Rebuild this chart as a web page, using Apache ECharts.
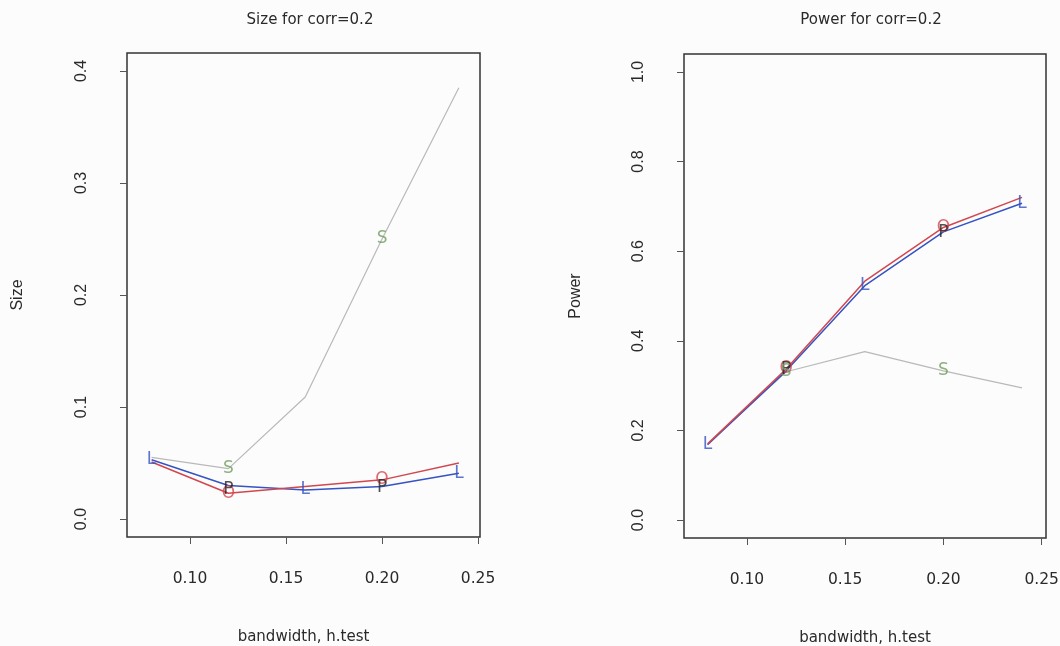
<!DOCTYPE html>
<html>
<head>
<meta charset="utf-8">
<script src="https://cdn.jsdelivr.net/npm/echarts@6/dist/echarts.min.js"></script>
<style>
html,body{margin:0;padding:0;background:#fcfcfc;}
#c{width:1060px;height:646px;}
</style>
</head>
<body>
<div id="c"></div>
<script>
// ---- data ----
const bandwidth = [0.08, 0.12, 0.16, 0.20, 0.24];
const xTicks = [0.10, 0.15, 0.20, 0.25];
const sizeTicks = [0.0, 0.1, 0.2, 0.3, 0.4];
const powerTicks = [0.0, 0.2, 0.4, 0.6, 0.8, 1.0];

// Size panel
const sizeRed   = [0.051, 0.023, 0.029, 0.035, 0.050];
const sizeBlue  = [0.053, 0.030, 0.026, 0.029, 0.041];
const sizeBlack = [null, 0.026, null, 0.028, null];
const sizeGray  = [0.055, 0.045, 0.109, 0.250, 0.385];

// Power panel
const powerRed   = [0.170, 0.337, 0.533, 0.653, 0.720];
const powerBlue  = [0.168, 0.333, 0.523, 0.643, 0.707];
const powerBlack = [null, 0.335, null, 0.642, null];
const powerGray  = [0.170, 0.331, 0.376, 0.333, 0.295];

// letters marking points
const blueLetter = 'L', redLetter = 'O', blackLetter = 'P', grayLetter = 'S';
const blueMarkIdx = [0, 2, 4];
const otherMarkIdx = [1, 3];

const FONT = '"DejaVu Sans", "Liberation Sans", Arial, sans-serif';
const FONT_V = '"Liberation Sans", Arial, sans-serif';
const C_RED = '#d2474f', C_BLUE = '#3553c2', C_GRAY = '#b9b9b9', C_GREEN = '#6f9e5e', C_BLACK = '#262626';
const C_TEXT = '#2a2a2a';

function pairs(vals, idx) {
  const out = [];
  vals.forEach((v, i) => { if (v !== null && (!idx || idx.indexOf(i) >= 0)) out.push([bandwidth[i], v]); });
  return out;
}
function lineSeries(vals, color, width, gi) {
  return { type: 'line', xAxisIndex: gi, yAxisIndex: gi, data: pairs(vals), symbol: 'none',
    lineStyle: { color: color, width: width }, silent: true, animation: false, z: 2 };
}
function letterSeries(vals, idx, letter, color, gi) {
  return { type: 'scatter', xAxisIndex: gi, yAxisIndex: gi, data: pairs(vals, idx), symbolSize: 1,
    itemStyle: { color: 'rgba(0,0,0,0)' }, animation: false, silent: true, z: 5,
    label: { show: true, position: 'inside', formatter: letter, color: color, fontSize: 17, fontFamily: FONT } };
}
function xAxisDef(gi, min, max) {
  return { type: 'value', gridIndex: gi, min: min, max: max,
    name: 'bandwidth, h.test', nameLocation: 'middle', nameGap: 93,
    nameTextStyle: { fontFamily: FONT, fontSize: 15, color: C_TEXT },
    axisLine: { show: false, onZero: false }, splitLine: { show: false },
    axisTick: { show: true, inside: false, length: 7, customValues: xTicks, lineStyle: { color: '#555', width: 1 } },
    axisLabel: { show: true, customValues: xTicks, margin: 34, formatter: v => v.toFixed(2),
      fontFamily: FONT, fontSize: 15.5, color: C_TEXT } };
}
function yAxisDef(gi, min, max, ticks, name, gap) {
  return { type: 'value', gridIndex: gi, min: min, max: max,
    name: name, nameLocation: 'middle', nameGap: gap, nameRotate: 90,
    nameTextStyle: { fontFamily: FONT_V, fontSize: 16, color: C_TEXT },
    axisLine: { show: false, onZero: false }, splitLine: { show: false },
    axisTick: { show: true, inside: false, length: 7, customValues: ticks, lineStyle: { color: '#555', width: 1 } },
    axisLabel: { show: true, customValues: ticks, margin: 37, rotate: 90, formatter: v => v.toFixed(1),
      fontFamily: FONT_V, fontSize: 16, color: C_TEXT } };
}

const chart = echarts.init(document.getElementById('c'), null, { renderer: 'canvas' });
chart.setOption({
  backgroundColor: '#fcfcfc',
  animation: false,
  title: [
    { text: 'Size for corr=0.2', left: 305, top: 8, textAlign: 'center',
      textStyle: { fontFamily: FONT, fontSize: 15, fontWeight: 'normal', color: C_TEXT } },
    { text: 'Power for corr=0.2', left: 866, top: 8, textAlign: 'center',
      textStyle: { fontFamily: FONT, fontSize: 15, fontWeight: 'normal', color: C_TEXT } }
  ],
  grid: [
    { left: 127, top: 53, width: 353, height: 484, outerBoundsMode: 'none', containLabel: false,
      show: true, borderColor: '#333', borderWidth: 1.5, backgroundColor: 'transparent' },
    { left: 684, top: 54, width: 362, height: 484, outerBoundsMode: 'none', containLabel: false,
      show: true, borderColor: '#333', borderWidth: 1.5, backgroundColor: 'transparent' }
  ],
  xAxis: [ xAxisDef(0, 0.0672, 0.251), xAxisDef(1, 0.068, 0.2522) ],
  yAxis: [ yAxisDef(0, -0.016, 0.416, sizeTicks, 'Size', 101), yAxisDef(1, -0.04, 1.04, powerTicks, 'Power', 100) ],
  series: [
    lineSeries(sizeGray, C_GRAY, 1.2, 0),
    lineSeries(sizeBlue, C_BLUE, 1.5, 0),
    lineSeries(sizeRed, C_RED, 1.5, 0),
    letterSeries(sizeBlue, blueMarkIdx, blueLetter, C_BLUE, 0),
    letterSeries(sizeRed, otherMarkIdx, redLetter, C_RED, 0),
    letterSeries(sizeBlack, otherMarkIdx, blackLetter, C_BLACK, 0),
    letterSeries(sizeGray, otherMarkIdx, grayLetter, C_GREEN, 0),

    lineSeries(powerGray, C_GRAY, 1.2, 1),
    lineSeries(powerBlue, C_BLUE, 1.5, 1),
    lineSeries(powerRed, C_RED, 1.5, 1),
    letterSeries(powerBlue, blueMarkIdx, blueLetter, C_BLUE, 1),
    letterSeries(powerRed, otherMarkIdx, redLetter, C_RED, 1),
    letterSeries(powerBlack, otherMarkIdx, blackLetter, C_BLACK, 1),
    letterSeries(powerGray, otherMarkIdx, grayLetter, C_GREEN, 1)
  ]
});
</script>
</body>
</html>
